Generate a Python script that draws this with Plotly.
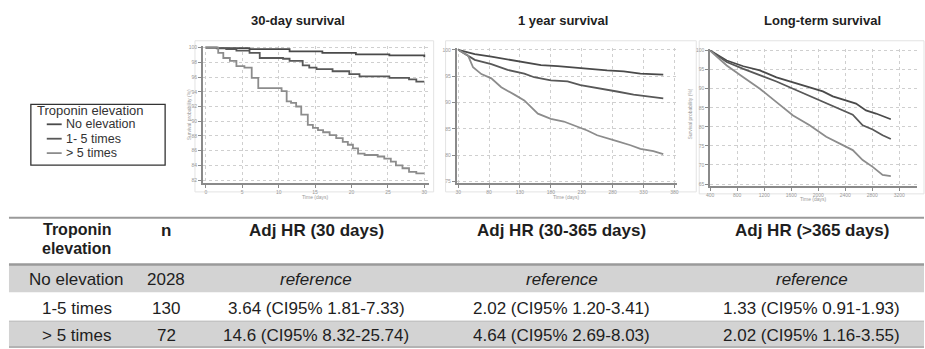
import plotly.graph_objects as go

W, H = 925, 349
FONT = "Arial, Liberation Sans, sans-serif"

# ---------------- data ----------------
groups = ["No elevation", "1- 5 times", "> 5 times"]
group_colors = ["#4a4a4a", "#585858", "#8c8c8c"]

# 30-day survival (days, %)
d30_none_t = [0, 1.5, 6, 11.5, 16, 20.6, 25.2, 30]
d30_none_s = [100, 99.95, 99.8, 99.5, 99.3, 99.1, 98.95, 98.7]
d30_mid_t = [0, 1.5, 2.8, 4.2, 6.0, 7.4, 10.6, 11.5, 13.3, 14.2, 15.2, 17.4, 19.7, 21.1, 25.2, 27.9, 28.9, 30]
d30_mid_s = [100, 99.9, 99.8, 99.6, 99.3, 98.6, 98.5, 98.2, 97.6, 97.3, 97.1, 96.8, 96.4, 96.1, 95.9, 95.7, 95.4, 95.4]
d30_high_t = [0, 1.7, 2.4, 3.3, 4.2, 5.3, 6.3, 7.2, 10.4, 11.1, 11.7, 12.4, 13.1, 14.0, 14.7, 15.4, 16.1,
              17.0, 17.9, 18.8, 19.5, 20.2, 20.9, 21.8, 23.6, 24.5, 25.4, 26.1, 27.0, 27.9, 28.9, 30]
d30_high_s = [100, 99.3, 98.6, 98.2, 97.5, 97.3, 95.9, 94.5, 94.1, 92.7, 92.5, 92.0, 90.9, 89.5, 89.1, 88.8, 88.5,
              88.1, 87.7, 87.2, 86.8, 86.3, 85.6, 85.4, 85.2, 84.9, 84.5, 84.0, 83.6, 83.1, 82.9, 82.9]

# 1 year survival
y1_none_t = [30, 56.8, 83.6, 110, 137, 164, 191, 218, 244, 271, 298, 325, 362]
y1_none_s = [100, 99.2, 98.7, 98.2, 97.7, 97.1, 96.9, 96.6, 96.4, 96.1, 95.9, 95.5, 95.3]
y1_mid_t = [30, 46, 56.8, 83.6, 110, 137, 153, 180, 207, 228, 260, 287, 314, 336, 362]
y1_mid_s = [100, 98.9, 98.1, 97.3, 96.2, 95.5, 94.8, 94.2, 94.0, 93.3, 92.7, 92.1, 91.5, 91.2, 90.8]
y1_high_t = [30, 46, 54, 67.5, 83.6, 99.7, 121, 137, 159, 180, 201, 218, 239, 255, 271, 287, 309, 325, 346, 362]
y1_high_s = [100, 98.9, 96.7, 95.4, 94.6, 92.9, 91.5, 90.4, 87.9, 86.9, 86.4, 85.7, 84.7, 83.8, 83.3, 82.7, 81.9, 81.2, 80.8, 80.2]

# long-term survival
lt_none_t = [400, 645, 891, 1136, 1382, 1627, 1873, 2069, 2216, 2413, 2560, 2707, 2855, 3075]
lt_none_s = [100, 97.4, 95.9, 94.8, 93.0, 91.7, 90.4, 89.3, 88.0, 86.9, 86.1, 84.3, 83.5, 82.0]
lt_mid_t = [400, 645, 891, 1136, 1382, 1627, 1873, 2118, 2315, 2511, 2658, 2806, 2953, 3075]
lt_mid_s = [100, 97.0, 95.2, 93.6, 91.9, 90.0, 88.1, 86.1, 84.6, 83.2, 80.4, 79.3, 77.8, 76.8]
lt_high_t = [400, 645, 891, 1136, 1382, 1627, 1873, 2118, 2364, 2511, 2658, 2806, 2953, 3075]
lt_high_s = [100, 96.1, 93.0, 90.0, 86.5, 83.0, 80.4, 77.4, 75.2, 73.9, 71.3, 69.5, 67.4, 67.1]

panel_titles = ["30-day survival", "1 year survival", "Long-term survival"]
x_ticks = [[0, 5, 10, 15, 20, 25, 30],
           [30, 80, 130, 180, 230, 280, 330, 380],
           [400, 800, 1200, 1600, 2000, 2400, 2800, 3200]]
y_ticks = [[82, 84, 86, 88, 90, 92, 94, 96, 98, 100],
           [75, 80, 85, 90, 95, 100],
           [65, 70, 75, 80, 85, 90, 95, 100]]

table_header = ["Troponin<br>elevation", "n", "Adj HR (30 days)", "Adj HR (30-365 days)", "Adj HR (>365 days)"]
table_rows = [
    ["No elevation", "2028", "<i>reference</i>", "<i>reference</i>", "<i>reference</i>"],
    ["1-5 times", "130", "3.64 (CI95% 1.81-7.33)", "2.02 (CI95% 1.20-3.41)", "1.33 (CI95% 0.91-1.93)"],
    ["> 5 times", "72", "14.6 (CI95% 8.32-25.74)", "4.64 (CI95% 2.69-8.03)", "2.02 (CI95% 1.16-3.55)"],
]
legend_title = "Troponin elevation"

# ---------------- helpers (pixel -> paper) ----------------
def px(x):
    return x / W

def py(y):
    return 1 - y / H

def text_at(x, y, text, size, color="#1e1e1e", xanchor="center", angle=0):
    return dict(x=px(x), y=py(y), xref="paper", yref="paper", text=text, showarrow=False,
                xanchor=xanchor, yanchor="middle", textangle=angle, borderpad=0,
                font=dict(size=size, color=color, family=FONT))

fig = go.Figure()

series = [
    [(d30_none_t, d30_none_s), (d30_mid_t, d30_mid_s), (d30_high_t, d30_high_s)],
    [(y1_none_t, y1_none_s), (y1_mid_t, y1_mid_s), (y1_high_t, y1_high_s)],
    [(lt_none_t, lt_none_s), (lt_mid_t, lt_mid_s), (lt_high_t, lt_high_s)],
]
shapes_per_panel = ["hv", "linear", "linear"]

panels = [
    dict(xd=(200, 427), yd=(45, 183), xr=(-0.4, 30.6), yr=(81.6, 100.27)),
    dict(xd=(455, 677), yd=(47, 183), xr=(27.3, 384.8), yr=(74.75, 100.4)),
    dict(xd=(710, 918), yd=(48, 186), xr=(400, 3463), yr=(64.5, 100.5)),
]

for i, p in enumerate(panels):
    xa = "x" if i == 0 else f"x{i+1}"
    ya = "y" if i == 0 else f"y{i+1}"
    for j, (t, s) in enumerate(series[i]):
        fig.add_trace(go.Scatter(
            x=t, y=s, mode="lines", xaxis=xa, yaxis=ya,
            line=dict(color=group_colors[j], width=1.8, shape=shapes_per_panel[i]),
            showlegend=False, hoverinfo="skip"))
    axcommon = dict(showline=True, linecolor="#8a8a8a", linewidth=1.5,
                    showgrid=True, gridcolor="#cfcfcf", griddash="dot", gridwidth=1,
                    ticks="outside", ticklen=3, tickcolor="#8a8a8a",
                    tickfont=dict(size=5, color="#999999", family=FONT),
                    zeroline=False, fixedrange=True)
    fig.layout[("xaxis" if i == 0 else f"xaxis{i+1}")] = dict(
        axcommon, domain=[px(p["xd"][0]), px(p["xd"][1])], range=list(p["xr"]),
        tickvals=x_ticks[i], anchor=ya)
    fig.layout[("yaxis" if i == 0 else f"yaxis{i+1}")] = dict(
        axcommon, domain=[py(p["yd"][1]), py(p["yd"][0])], range=list(p["yr"]),
        tickvals=y_ticks[i], anchor=xa)

shapes = []
annos = []

# panel frames
for (x0, x1, y0, y1) in [(192, 432, 40, 192), (444, 696, 40, 192), (699, 925, 40, 194)]:
    shapes.append(dict(type="rect", xref="paper", yref="paper",
                       x0=px(x0), x1=px(x1), y0=py(y1), y1=py(y0),
                       line=dict(color="#e3e3e3", width=1), layer="below"))

# axis titles (tiny)
for (xc, yb) in [(313, 197), (566, 197), (814, 199)]:
    annos.append(text_at(xc, yb, "Time (days)", 5, "#999999"))
annos.append(text_at(186, 114, "Survival probability (%)", 5, "#999999", angle=-90))
annos.append(text_at(690, 114, "Survival probability (%)", 5, "#999999", angle=-90))

# panel titles
for txt, xc in zip(panel_titles, [296, 562, 823]):
    annos.append(text_at(xc, 20, f"<b>{txt}</b>", 13))

# legend box
shapes.append(dict(type="rect", xref="paper", yref="paper", x0=px(27), x1=px(162), y0=py(165), y1=py(104),
                   line=dict(color="#333333", width=1.3), fillcolor="white"))
annos.append(text_at(32, 110, legend_title, 13, "#333333", xanchor="left"))
for k, (g, c) in enumerate(zip(groups, group_colors)):
    yy = 124 + 14.5 * k
    shapes.append(dict(type="line", xref="paper", yref="paper", x0=px(43), x1=px(58), y0=py(yy), y1=py(yy),
                       line=dict(color=c, width=1.8)))
    annos.append(text_at(61, yy, g, 12.5, "#333333", xanchor="left"))

# table backgrounds and rules
shapes.append(dict(type="rect", xref="paper", yref="paper", x0=px(5), x1=px(925), y0=py(293), y1=py(265),
                   line=dict(width=0), fillcolor="#d3d3d3", layer="below"))
shapes.append(dict(type="rect", xref="paper", yref="paper", x0=px(5), x1=px(925), y0=py(347), y1=py(322),
                   line=dict(width=0), fillcolor="#d3d3d3", layer="below"))
for (yy, col, wd) in [(218, "#9a9a9a", 2), (265, "#9a9a9a", 2.5), (322, "#b5b5b5", 1), (348, "#9a9a9a", 1.5)]:
    shapes.append(dict(type="line", xref="paper", yref="paper", x0=px(5), x1=px(925), y0=py(yy), y1=py(yy),
                       line=dict(color=col, width=wd)))

col_x = [73, 163, 314, 561, 812]
for cx, h in zip(col_x, table_header):
    if "<br>" in h:
        a, b = h.split("<br>")
        annos.append(text_at(cx, 229.5, f"<b>{a}</b>", 16))
        annos.append(text_at(cx, 249, f"<b>{b}</b>", 16))
    else:
        annos.append(text_at(cx, 231, f"<b>{h}</b>", 17))
for ry, row in zip([280, 309, 336], table_rows):
    for cx, txt in zip(col_x, row):
        annos.append(text_at(cx, ry, txt, 17))

fig.update_layout(width=W, height=H, margin=dict(l=0, r=0, t=0, b=0),
                  paper_bgcolor="white", plot_bgcolor="white",
                  shapes=shapes, annotations=annos, showlegend=False)
fig.write_html("out.html")
